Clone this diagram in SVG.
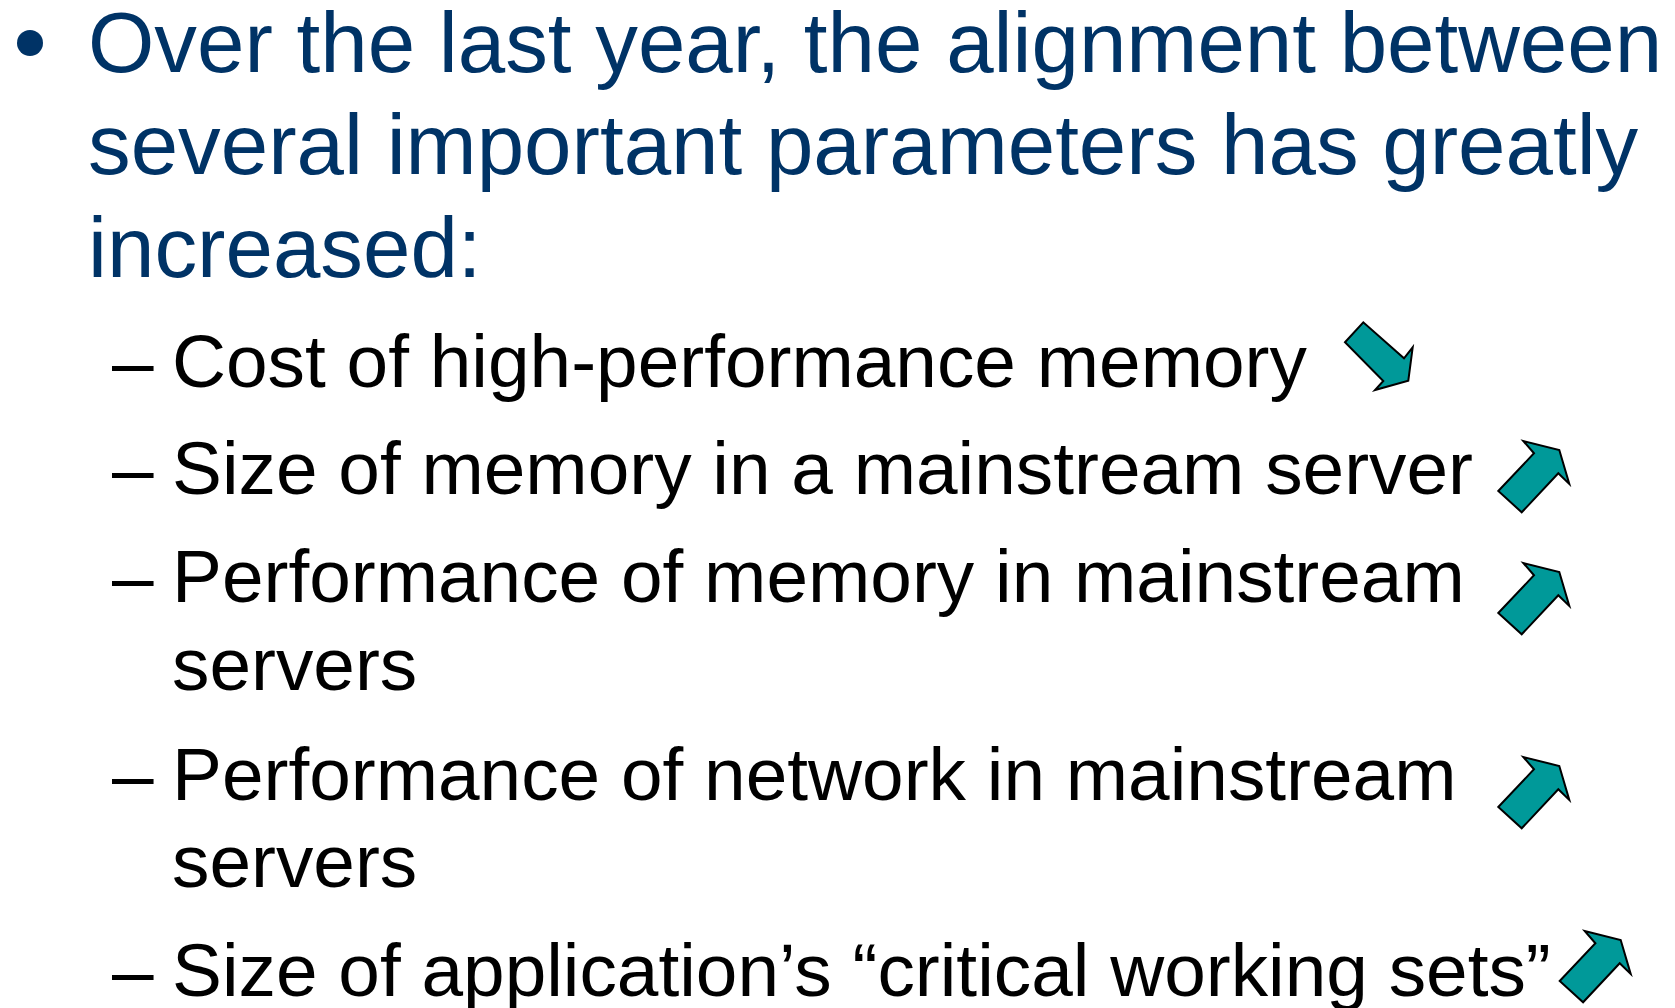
<svg xmlns="http://www.w3.org/2000/svg" width="1675" height="1008" viewBox="0 0 1675 1008">
  <style>
    .head { font-family: "Liberation Sans", Arial, sans-serif; font-size: 85.3px; fill: #003366; }
    .sub { font-family: "Liberation Sans", Arial, sans-serif; font-size: 74.8px; fill: #000000; }
    .arrow { fill: #009999; stroke: #000000; stroke-width: 2; stroke-linejoin: miter; }
  </style>
  <defs>
    <polygon id="arrowUp" points="1498.3,491 1534,453.3 1523.3,441 1559.3,450 1569.3,484 1558.3,473.3 1521.7,512.3"/>
  </defs>
  <rect width="1675" height="1008" fill="#ffffff"/>

  <!-- main bullet -->
  <g id="heading">
    <circle cx="30" cy="43" r="13" fill="#003366"/>
    <text class="head" x="88" y="72">Over the last year, the alignment between</text>
    <text class="head" x="88" y="174">several important parameters has greatly</text>
    <text class="head" x="88" y="277">increased:</text>
  </g>

  <!-- sub bullets -->
  <g id="item-cost">
    <text class="sub" x="112" y="387">–</text>
    <text class="sub" x="172" y="387">Cost of high-performance memory</text>
  </g>
  <g id="item-size">
    <text class="sub" x="112" y="494">–</text>
    <text class="sub" x="172" y="494">Size of memory in a mainstream server</text>
  </g>
  <g id="item-memperf">
    <text class="sub" x="112" y="602">–</text>
    <text class="sub" x="172" y="602">Performance of memory in mainstream</text>
    <text class="sub" x="172" y="690">servers</text>
  </g>
  <g id="item-netperf">
    <text class="sub" x="112" y="800">–</text>
    <text class="sub" x="172" y="800">Performance of network in mainstream</text>
    <text class="sub" x="172" y="887">servers</text>
  </g>
  <g id="item-worksets">
    <text class="sub" x="112" y="996">–</text>
    <text class="sub" x="172" y="996">Size of application’s “critical working sets”</text>
  </g>

  <!-- trend arrows -->
  <g id="trend-arrows">
    <polygon class="arrow" points="1345,342.3 1363.3,322.3 1404,358.3 1412.7,347.3 1408.3,380.7 1375,390 1383.3,381"/>
    <use href="#arrowUp" class="arrow"/>
    <use href="#arrowUp" class="arrow" transform="translate(0,122)"/>
    <use href="#arrowUp" class="arrow" transform="translate(0,316)"/>
    <use href="#arrowUp" class="arrow" transform="translate(61.4,490)"/>
  </g>
</svg>
